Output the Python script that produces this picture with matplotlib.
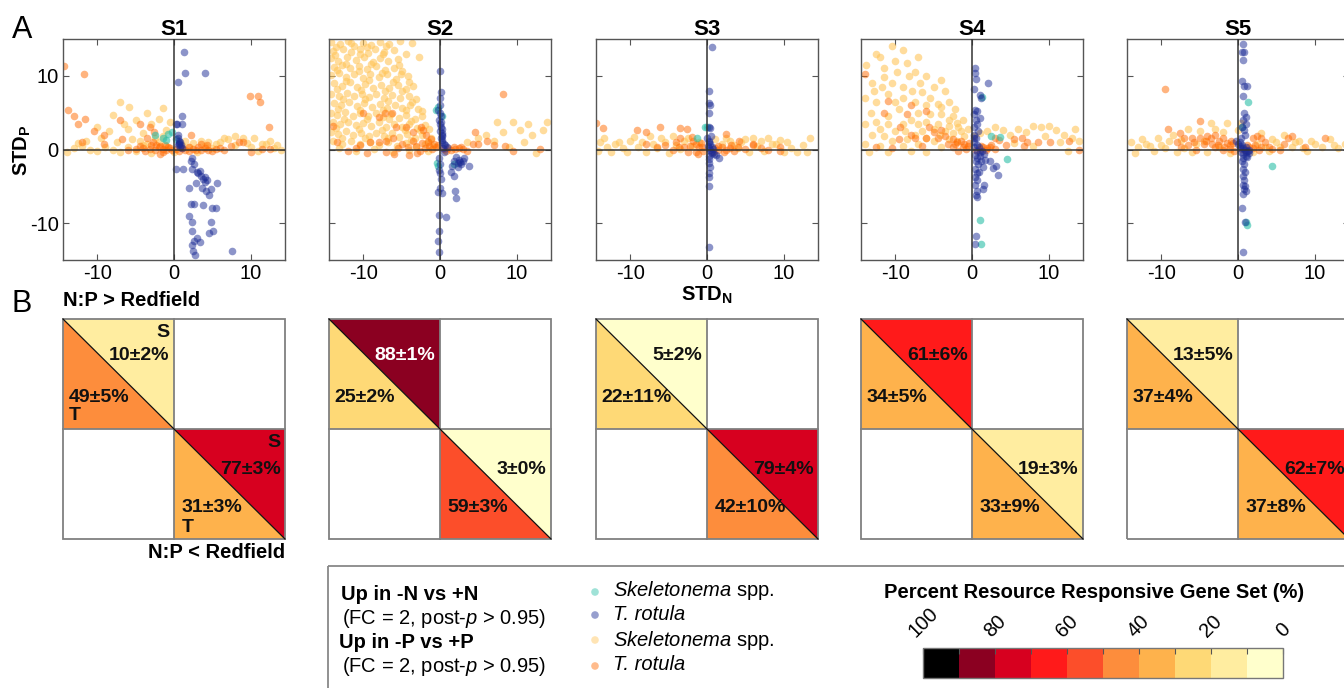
import matplotlib
matplotlib.use("Agg")
import matplotlib.pyplot as plt
import numpy as np
from matplotlib.colors import ListedColormap, BoundaryNorm
from matplotlib.patches import Polygon, Rectangle
import matplotlib.colorbar as mcolorbar

plt.rcParams['font.family'] = ['Liberation Sans', 'DejaVu Sans']
plt.rcParams['mathtext.fontset'] = 'custom'
plt.rcParams['mathtext.rm'] = 'Liberation Sans'
plt.rcParams['mathtext.it'] = 'Liberation Sans:italic'
plt.rcParams['mathtext.bf'] = 'Liberation Sans:bold'
plt.rcParams['axes.unicode_minus'] = False

stations = ['S1', 'S2', 'S3', 'S4', 'S5']

# ---- panel A: (STD_N, STD_P) points ----
s1_skel_p = [(-7.0, 6.4), (-5.9, 5.8), (-8.0, 4.7), (-5.0, 4.0), (-3.5, 5.0), (-2.0, 4.2), (-1.5, 5.6),
             (-10.0, 3.0), (-8.5, 2.5), (-6.0, 2.8), (-4.0, 2.2), (-2.5, 1.5), (-12.0, 0.5), (-14.0, -0.3),
             (-13.0, 0.2), (-11.0, 0.0), (-10.0, -0.2), (-9.0, 0.3), (-8.0, 0.0), (-7.0, -0.3), (-6.0, 0.4),
             (-5.0, -0.2), (-4.0, 0.6), (-3.0, -0.5), (-2.0, 1.0), (-1.0, 0.5), (0.0, -0.3), (1.0, 0.6),
             (2.0, 0.3), (3.0, -0.4), (4.0, 0.5), (5.0, 0.2), (6.0, 1.0), (7.0, 1.4), (8.0, 0.6), (9.0, 1.5),
             (10.0, 0.4), (11.0, -0.2), (12.0, 0.8), (13.0, 0.2), (14.0, -0.1), (6.5, 1.6), (8.0, 1.8),
             (10.5, 1.6), (12.5, 1.2), (-3.0, 3.5), (-6.5, 3.4), (-9.5, 1.5), (-1.0, 2.6), (-0.5, 3.8),
             (-12.5, 0.9), (-11.5, 1.2), (-7.5, 1.0), (-5.5, 1.4), (-4.5, 1.2), (-3.5, 0.8), (-1.5, 1.8),
             (1.5, 1.2), (2.5, 0.9), (3.5, 1.2), (4.5, 1.0), (5.5, 0.8), (9.5, 0.9), (11.5, 0.7), (13.5, 0.6)]
s1_trot_p = [(-14.4, 11.4), (-11.8, 10.2), (-13.8, 5.3), (-13.0, 4.5), (-12.6, 3.5), (-11.6, 4.1), (-12.0, 1.0),
             (-10.4, 2.5), (-9.2, 2.0), (-9.1, 0.8), (-7.0, 4.0), (-6.8, 1.4), (-4.5, 3.4), (-3.2, 3.0),
             (-2.6, 2.4), (-3.5, 1.6), (-2.3, 0.6), (-1.8, -0.6), (-4.0, 0.2), (-3.2, 0.1), (-2.0, 0.3),
             (-1.5, 0.1), (-1.0, 0.0), (-0.5, 0.2), (0.3, 0.1), (1.5, 0.0), (2.5, 0.1), (3.5, 0.0), (4.5, -0.1),
             (5.5, 0.1), (2.2, 2.0), (3.5, 0.8), (4.3, 0.6), (6.0, 0.2), (6.5, -0.1), (7.5, 0.5), (8.5, 1.0),
             (9.9, 7.2), (11.0, 7.2), (11.2, 6.4), (12.4, 3.0), (9.0, 1.0), (11.5, 0.1), (12.5, 0.1),
             (10.0, -0.3), (-5.0, 0.1), (-6.0, -0.1), (-2.8, 1.0), (-1.2, 0.6), (0.8, 0.3), (2.0, -0.2),
             (-4.4, 0.5), (-3.8, -0.2), (-2.5, -0.1), (-1.8, 0.5), (-0.8, 0.4), (-0.3, -0.1), (0.6, -0.2),
             (1.1, 0.2), (1.9, 0.3), (2.9, -0.1), (3.2, 0.3), (4.0, 0.2), (5.0, -0.2), (-3.0, 0.6), (-1.4, -0.3)]
s1_skel_n = [(-2.5, 2.0), (-1.5, 1.6), (-0.8, 2.1), (-0.3, 2.4), (-1.0, 1.3), (0.2, 1.4)]
s1_trot_n = [(1.3, 13.3), (1.4, 10.4), (4.0, 10.4), (0.5, 9.2), (1.0, 4.6), (0.3, 3.4), (1.1, 3.4), (0.5, 2.0),
             (0.8, 0.4), (0.7, 0.8), (0.6, 1.2), (0.9, 0.6), (1.0, 0.2), (0.5, 1.5), (0.4, 3.4),
             (2.2, -1.6), (2.6, -2.0), (0.3, -2.6), (1.2, -2.6), (2.3, -2.6), (3.2, -3.2), (3.5, -3.6),
             (3.8, -4.0), (4.0, -4.4), (3.6, -5.2), (4.2, -5.6), (4.6, -6.2), (2.0, -5.2), (5.6, -4.6),
             (4.8, -5.4), (2.2, -7.4), (2.6, -7.4), (3.8, -7.6), (5.0, -8.0), (5.5, -7.9), (1.9, -9.0),
             (2.4, -9.8), (4.8, -9.8), (2.3, -11.0), (5.1, -11.0), (4.6, -11.4), (3.0, -12.0), (2.6, -12.4),
             (2.4, -13.0), (3.4, -12.6), (2.5, -13.8), (7.6, -13.8), (2.8, -14.3), (3.0, -3.0), (4.1, -3.8),
             (4.3, -4.2), (3.4, -2.9), (2.4, -1.1), (2.9, -4.6), (0.6, 0.9), (0.8, 1.0), (0.5, 0.6)]

s2_skel_p = [(-14.2, 14.6), (-13.1, 14.3), (-12.0, 14.7), (-11.2, 14.1), (-10.1, 14.5), (-9.0, 14.2), (-7.9, 14.6),
             (-6.6, 14.3), (-5.2, 14.7), (-3.6, 14.4),
             (-14.0, 13.4), (-12.7, 13.7), (-11.6, 13.2), (-10.5, 13.6), (-9.4, 13.1), (-8.5, 13.7), (-7.3, 13.3),
             (-6.0, 13.5), (-4.4, 13.0),
             (-14.3, 12.4), (-13.3, 12.0), (-12.2, 12.6), (-11.0, 12.2), (-9.9, 12.5), (-8.8, 11.9), (-7.8, 12.4),
             (-6.8, 12.0), (-5.5, 12.3), (-2.7, 12.6),
             (-13.8, 11.2), (-12.8, 11.5), (-11.7, 11.0), (-10.6, 11.4), (-9.6, 10.9), (-8.4, 11.3), (-7.2, 10.8),
             (-6.0, 11.1), (-4.9, 10.7),
             (-14.2, 10.1), (-13.2, 10.4), (-12.3, 9.8), (-11.2, 10.2), (-10.1, 9.7), (-9.1, 10.3), (-8.0, 9.8),
             (-6.9, 10.2), (-5.8, 9.6), (-4.2, 10.0),
             (-13.9, 9.0), (-12.8, 8.6), (-11.8, 9.1), (-10.8, 8.5), (-9.8, 8.9), (-8.8, 8.4), (-7.7, 8.8),
             (-6.6, 8.3), (-5.5, 8.7), (-4.5, 8.2), (-3.5, 8.6),
             (-14.2, 7.6), (-13.2, 7.2), (-12.2, 7.7), (-11.2, 7.3), (-10.2, 7.6), (-9.3, 7.1), (-8.3, 7.5),
             (-7.3, 7.0), (-6.3, 7.4), (-5.2, 7.0), (-4.1, 7.3), (-3.1, 6.9),
             (-13.9, 6.3), (-12.9, 6.0), (-11.9, 6.4), (-10.9, 5.9), (-9.9, 6.3), (-8.9, 5.8), (-7.9, 6.2),
             (-6.9, 5.7), (-5.9, 6.1), (-4.9, 5.6), (-3.9, 6.0), (-2.9, 5.5),
             (-14.3, 5.0), (-13.4, 4.7), (-12.4, 5.1), (-11.4, 4.6), (-10.4, 5.0), (-9.4, 4.5), (-8.4, 4.9),
             (-7.4, 4.4), (-6.4, 4.8), (-5.4, 4.3), (-4.4, 4.7), (-3.3, 4.2), (-2.4, 4.6),
             (-14.0, 3.7), (-13.0, 3.4), (-12.0, 3.8), (-11.0, 3.3), (-10.0, 3.6), (-9.0, 3.2), (-8.0, 3.7),
             (-7.0, 3.1), (-6.0, 3.5), (-5.0, 3.0), (-4.0, 3.4), (-3.0, 2.9), (-2.0, 3.3), (-1.4, 2.8),
             (-14.3, 2.4), (-13.3, 2.1), (-12.3, 2.5), (-11.3, 2.0), (-10.3, 2.3), (-9.3, 1.9), (-8.3, 2.3),
             (-7.3, 1.8), (-6.3, 2.2), (-5.3, 1.7), (-4.3, 2.1), (-3.3, 1.6), (-2.3, 2.0), (-1.2, 1.6),
             (-14.0, 1.1), (-12.8, 0.8), (-11.6, 1.2), (-10.4, 0.7), (-9.2, 1.0), (-8.0, 0.6), (-6.8, 1.0),
             (-5.6, 0.5), (-4.4, 0.9), (-3.2, 0.4), (-2.0, 0.8), (-0.9, 0.5),
             (-13.2, 0.2), (-11.0, -0.2), (-8.6, 0.1), (-6.2, -0.3), (-4.0, 0.0), (-1.6, -0.2),
             (-13.6, 13.9), (-11.6, 14.4), (-9.6, 13.9), (-7.0, 14.0), (-13.7, 12.8), (-10.5, 12.9), (-7.4, 12.9),
             (-12.3, 11.6), (-9.0, 11.6), (-5.4, 11.5), (-13.5, 10.8), (-10.6, 10.6), (-7.6, 10.4), (-5.1, 10.3),
             (-12.3, 9.3), (-9.3, 9.4), (-6.2, 9.1), (-4.0, 9.2), (-13.4, 8.2), (-10.3, 8.1), (-7.2, 8.0),
             (-5.0, 7.9), (-12.7, 6.8), (-9.8, 6.8), (-6.8, 6.6), (-3.6, 6.5), (-13.3, 5.5), (-10.4, 5.4),
             (-7.4, 5.3), (-4.4, 5.3), (-2.4, 5.2), (-12.6, 4.2), (-9.6, 4.1), (-6.6, 4.1), (-3.8, 3.9),
             (-13.6, 2.9), (-10.6, 2.8), (-7.6, 2.7), (-4.6, 2.6), (-2.6, 2.6), (-12.8, 1.6), (-9.8, 1.5),
             (-6.8, 1.5), (-3.8, 1.3), (-1.6, 1.1),
             (7.5, 3.8), (9.5, 3.8), (11.5, 3.5), (14.0, 3.8), (13.5, 2.6), (10.5, 2.6), (12.0, 2.0), (11.0, 1.0),
             (6.0, 2.0), (7.0, 1.2), (5.0, 1.5), (9.0, 0.3), (12.5, -0.5), (3.5, 1.0), (8.2, 2.4)]
s2_trot_p = [(8.2, 7.6), (-10.0, 5.0), (-8.0, 4.4), (-7.2, 5.0), (-6.3, 5.0), (-4.5, 3.0), (-5.8, 3.0), (-2.5, 3.0),
             (-2.2, 2.6), (-1.8, 2.0), (-3.5, 2.4), (-6.2, 1.6), (-7.0, 1.2), (-8.0, 1.0), (-9.2, 1.0),
             (-10.4, 0.6), (-13.5, 1.0), (-14.0, 3.2), (-11.0, 0.2), (-9.5, -0.5), (-7.0, -0.4), (-6.0, -0.6),
             (-4.0, -0.8), (-3.0, -0.5), (-2.0, 0.2), (-1.5, 0.5), (-1.0, 0.1), (-0.5, 0.3), (-0.2, 0.6),
             (0.5, 0.1), (1.0, 0.2), (1.5, 0.0), (2.0, 0.1), (2.5, 0.2), (3.0, 0.1), (3.5, -0.2), (4.3, 0.8),
             (5.0, 0.7), (4.6, 2.4), (6.2, 1.2), (7.0, 0.6), (8.5, 0.5), (9.5, -0.2), (13.0, 0.1), (-12.0, -0.2),
             (-5.0, 0.8), (-3.5, 1.2), (-1.2, 1.4), (-2.6, -0.2), (-1.6, 1.0), (-0.8, 0.8), (-2.4, 0.9),
             (-3.1, 0.5), (1.8, 0.4), (2.8, 0.3), (0.8, -0.2), (-4.2, 0.4), (-5.5, 0.2)]
s2_skel_n = [(-0.5, 5.4), (-0.3, 5.8), (-0.4, -1.8), (-0.3, -2.2), (1.8, -2.0), (0.2, 4.6)]
s2_trot_n = [(0.0, 10.6), (0.1, 7.8), (0.0, 7.0), (0.0, 6.0), (-0.2, 5.4), (0.0, 5.0), (0.1, 4.5), (-0.1, 4.0),
             (0.0, 3.5), (0.1, 3.0), (0.0, 2.5), (0.2, 2.0), (0.1, 1.5), (0.3, 1.0), (0.6, 0.6), (0.9, 0.3),
             (0.5, -0.3), (-0.1, -1.2), (0.0, -2.0), (-0.1, -2.8), (0.0, -3.2), (0.1, -4.0), (0.0, -5.2),
             (-0.3, -5.8), (0.2, -5.9), (-0.1, -8.9), (-0.1, -11.0), (-0.2, -12.4), (-0.1, -13.9), (0.8, -9.2),
             (2.1, -1.0), (2.5, -1.4), (3.0, -1.6), (2.8, -2.0), (2.3, -1.8), (3.2, -1.2), (1.8, -1.5),
             (1.6, -2.2), (2.4, -2.4), (3.8, -2.2), (1.8, -3.6), (2.0, -5.6), (2.1, -6.6), (1.5, -3.0),
             (0.4, 0.2), (0.5, 0.8), (0.3, 1.8), (0.2, 2.8), (0.1, 3.8), (0.2, 2.3), (0.3, 1.3), (2.6, -1.7)]

s3_skel_p = [(-14.0, 1.0), (-13.0, 0.4), (-12.0, 0.8), (-11.0, 0.2), (-10.0, 1.2), (-9.0, 0.4), (-8.0, -0.3),
             (-7.0, 0.8), (-6.0, 1.5), (-5.0, -0.5), (-4.0, 0.6), (-3.0, 1.2), (-2.0, 0.5), (-1.0, 1.0),
             (2.0, 0.8), (3.0, 1.2), (4.0, 0.2), (5.0, 1.4), (6.0, 1.6), (7.0, 1.2), (8.0, 1.5), (9.0, 0.8),
             (10.0, -0.4), (11.0, 0.2), (12.5, 0.6), (13.5, 1.5), (13.0, -0.3), (-12.5, -0.3), (-10.5, -0.4),
             (-7.5, 1.8), (-14.2, -0.2), (5.5, -0.3), (7.5, -0.2), (11.8, -0.3), (-4.5, 1.9), (1.0, 1.4),
             (-13.5, 1.6), (-11.5, 1.0), (-9.5, 1.7), (-8.5, 1.0), (-6.5, 0.2), (-5.5, 1.0), (-3.5, 0.1),
             (-2.5, 1.6), (2.5, 1.6), (3.5, 0.6), (4.5, 1.0), (6.5, 0.5), (8.5, 0.7), (9.5, 1.3), (10.5, 1.0)]
s3_trot_p = [(-14.5, 3.6), (-13.6, 2.9), (-9.2, 2.7), (-8.0, 2.4), (-6.1, 3.0), (-3.5, 2.9), (-2.6, 2.8),
             (-3.5, 1.6), (-2.0, 1.7), (-1.8, 1.2), (-4.0, 1.0), (-5.5, 0.6), (-6.5, 0.4), (-8.0, 0.7),
             (-3.0, 0.3), (-2.5, -0.3), (-1.0, 0.3), (-0.5, -0.2), (1.0, 0.2), (1.5, -0.1), (2.0, 0.3),
             (2.5, 0.0), (3.0, 0.2), (3.5, -0.2), (4.0, 0.4), (5.0, 0.1), (6.0, 0.6), (7.0, 0.2), (8.0, 0.0),
             (9.6, 0.4), (9.6, -0.2), (4.2, 1.2), (2.5, 2.1), (6.0, 0.8), (-1.5, -0.4), (-4.5, -0.1),
             (-2.2, 0.5), (-1.4, 0.7), (-0.8, 0.9), (-3.6, 0.4), (1.4, 0.5), (2.2, -0.3), (3.2, 0.6),
             (-1.2, -0.6), (-0.6, 0.4), (0.8, -0.3)]
s3_skel_n = [(-0.2, 3.0), (0.0, 3.0), (-1.3, 1.6)]
s3_trot_n = [(0.6, 13.9), (0.3, 8.0), (0.3, 6.3), (0.4, 6.0), (0.2, 4.9), (0.3, 3.0), (0.4, 2.9), (0.0, 1.5),
             (0.2, 1.2), (0.4, 0.8), (0.6, 0.4), (0.8, 0.1), (0.5, -0.3), (0.9, -0.6), (1.6, -1.2), (1.2, -0.8),
             (0.3, -1.8), (0.4, -2.4), (0.3, -3.2), (0.2, -3.7), (0.3, -5.0), (0.3, -13.3), (0.1, 0.5),
             (0.3, -0.9), (0.5, 1.8), (0.2, 0.2), (0.4, -0.1), (0.6, -0.5), (0.2, 1.0), (0.3, -1.3)]

s4_skel_p = [(-10.5, 14.0), (-12.5, 13.0), (-9.0, 13.5), (-13.8, 11.5), (-11.5, 11.0), (-10.0, 12.0), (-8.5, 11.8),
             (-7.5, 10.5), (-6.0, 10.0), (-13.0, 9.0), (-11.8, 8.5), (-10.5, 9.0), (-9.0, 8.5), (-7.8, 8.0),
             (-6.5, 7.8), (-5.5, 7.0), (-4.5, 6.2), (-3.0, 6.5), (-14.0, 7.0), (-12.5, 6.5), (-13.2, 5.0),
             (-10.0, 6.5), (-9.5, 5.5), (-7.0, 5.0), (-5.5, 4.8), (-4.0, 4.8), (-2.5, 4.5), (-14.0, 3.5),
             (-12.5, 3.8), (-11.0, 3.5), (-10.0, 2.5), (-7.0, 3.5), (-6.0, 3.8), (-4.5, 3.5), (-3.0, 3.2),
             (-2.0, 3.6), (-1.5, 2.5), (-13.0, 2.0), (-11.5, 1.8), (-8.8, 2.5), (-6.5, 2.5), (-5.0, 1.2),
             (-3.5, 2.5), (-2.5, 2.2), (-1.0, 1.8), (-14.0, 0.8), (-12.0, 0.5), (-9.0, 0.5), (-7.0, 0.8),
             (-4.0, 0.4), (-13.5, -0.3), (-11.0, -0.4), (-8.0, -0.2), (-6.0, -0.3), (1.0, 2.2), (2.0, 2.5),
             (3.0, 3.0), (4.0, 2.6), (5.0, 2.0), (6.0, 2.8), (7.0, 2.4), (8.0, 3.2), (9.0, 3.0), (10.0, 3.2),
             (11.0, 2.6), (12.0, 2.0), (13.0, 1.6), (14.0, 1.2), (5.5, 0.9), (8.0, 0.5), (9.5, 1.8), (11.5, 1.0),
             (12.5, -0.2), (13.5, 2.8), (-0.5, 2.8), (0.2, 1.8), (-8.2, 10.0), (-12.0, 12.5), (-7.0, 12.5),
             (-5.0, 8.5), (-3.5, 8.0), (-4.0, 9.5), (-8.0, 4.0), (-9.0, 3.4), (-11.0, 4.6), (-6.0, 6.0),
             (-3.0, 4.0), (-5.0, 2.8), (-2.0, 1.2), (-8.5, 1.4), (-12.0, 2.8), (-10.5, 1.2), (-7.5, 2.0),
             (-6.0, 1.5), (-4.2, 2.0), (-3.0, 1.4), (-1.8, 3.0), (-1.2, 4.0), (-2.2, 5.5), (-4.0, 5.8),
             (-7.5, 6.5), (-9.0, 7.0), (-11.0, 7.5), (-12.8, 8.0), (-6.8, 9.0), (-9.8, 10.5), (-11.5, 9.8)]
s4_trot_p = [(-14.0, 10.2), (-11.0, 6.6), (-8.0, 6.0), (-6.0, 5.2), (-11.5, 5.0), (-8.5, 4.8), (-9.4, 3.0),
             (-8.0, 2.0), (-5.6, 3.0), (-5.0, 2.4), (-4.0, 2.6), (-3.5, 1.8), (-4.5, 1.6), (-6.0, 1.6),
             (-7.5, 1.6), (-9.5, 1.4), (-2.5, 1.4), (-2.0, 1.0), (-1.5, 1.2), (-1.0, 0.8), (-0.5, 0.5),
             (-0.8, 0.1), (-2.5, 0.3), (-3.2, 0.8), (-1.8, -0.2), (0.5, 0.0), (1.0, 0.1), (1.5, 0.4), (2.0, 0.2),
             (2.5, 0.6), (3.0, 0.1), (3.5, 1.3), (3.0, 1.6), (4.5, 0.6), (5.5, 1.4), (6.5, 1.6), (7.2, 1.0),
             (8.6, 1.0), (10.2, 1.0), (12.7, 1.2), (14.0, 0.0), (6.8, 0.5), (-10.5, 0.2), (-12.5, 0.4),
             (-6.5, 0.5), (-1.2, 0.4), (-0.4, 0.9), (-2.2, 0.7), (1.2, 0.5), (1.8, -0.1), (2.4, 0.3)]
s4_skel_n = [(1.3, 7.1), (3.6, 1.7), (4.6, -1.3), (1.0, -9.6), (1.2, -12.8), (2.5, 1.8)]
s4_trot_n = [(0.4, 11.0), (0.4, 10.4), (0.5, 9.6), (2.1, 9.0), (0.3, 8.2), (1.0, 7.4), (1.2, 7.0), (0.4, 5.3),
             (0.6, 5.2), (0.3, 4.8), (1.0, 4.3), (0.5, 4.0), (0.6, 3.5), (0.2, 3.0), (0.8, 2.5), (0.3, 2.0),
             (0.5, 1.5), (0.3, 1.0), (0.6, 0.6), (0.9, 0.3), (1.3, -0.2), (1.6, -0.6), (1.0, -0.9), (1.7, -1.4),
             (0.5, -1.5), (0.8, -2.0), (0.4, -2.6), (0.6, -3.2), (0.4, -3.8), (0.6, -4.2), (0.4, -4.8),
             (1.6, -4.8), (1.5, -5.3), (0.6, -5.6), (0.5, -6.2), (0.6, -6.4), (3.1, -2.2), (3.4, -3.5),
             (2.8, -2.5), (2.3, -1.6), (0.5, -11.8), (0.4, -12.8), (1.5, -2.4), (0.9, -3.0),
             (0.3, 0.4), (0.6, -0.2), (1.0, -0.4), (0.4, -0.7), (0.7, -1.1), (1.2, -1.6), (0.3, 1.6)]

s5_skel_p = [(-14.0, 1.0), (-13.0, 0.3), (-12.0, 0.8), (-11.0, -0.2), (-10.0, 0.6), (-9.0, 1.2), (-8.0, -0.3),
             (-7.0, 0.2), (-6.0, -0.4), (-5.0, 2.5), (-4.0, -0.3), (-3.0, 2.8), (-2.0, 2.4), (-1.0, -0.5),
             (0.0, 2.6), (2.0, -0.3), (3.0, 2.3), (4.0, -0.2), (5.0, 1.0), (6.0, 2.0), (7.0, 0.3), (8.0, 1.2),
             (9.0, -0.2), (10.0, 0.8), (11.0, 0.3), (12.0, 1.4), (13.0, 0.2), (14.0, 0.8), (-13.5, -0.5),
             (-10.5, 1.5), (-6.5, 2.8), (-3.5, 3.6), (-8.5, 2.0), (-1.5, 3.6), (0.4, 3.6),
             (-12.5, 1.4), (-11.5, 0.5), (-9.5, 0.2), (-7.5, 1.3), (-5.5, 0.8), (-4.5, 1.2), (-2.5, 0.4),
             (2.5, 0.8), (3.5, 0.4), (4.5, 1.4), (5.5, 0.3), (7.5, 1.0), (8.5, 0.2), (9.5, 1.2), (12.5, 0.6)]
s5_trot_p = [(-9.5, 8.2), (-5.0, 3.9), (-9.2, 2.8), (-7.6, 2.3), (-7.0, 1.6), (-6.0, 1.6), (-5.0, 1.5),
             (-4.0, 1.8), (-3.5, 1.6), (-3.0, 2.0), (-2.5, 1.2), (-2.0, 1.6), (-1.5, 0.9), (-1.0, 0.6),
             (-0.6, 0.9), (-4.5, 0.8), (-6.5, 0.6), (-8.0, 1.0), (-3.0, 0.3), (-2.0, 0.0), (-1.0, 0.1),
             (-0.5, -0.2), (0.5, 0.1), (1.5, 0.3), (2.0, 1.6), (2.5, 1.8), (3.0, 1.5), (3.5, 1.0), (3.0, 0.4),
             (4.0, 0.3), (4.5, 0.1), (5.5, 0.0), (6.5, 1.5), (7.0, 1.8), (6.0, 0.8), (8.8, 0.4), (11.4, 1.6),
             (2.2, 0.6), (-5.5, -0.1), (-7.5, 0.3), (-4.2, 1.2), (-3.4, 0.8), (-2.6, 0.6), (-1.8, 0.4),
             (-0.9, 1.2), (-5.8, 1.0), (1.2, 0.6), (2.0, 0.2), (2.8, -0.1), (1.0, -0.2)]
s5_skel_n = [(1.3, 6.4), (4.5, -2.2), (1.1, -9.8), (1.2, -10.2), (0.5, 3.0)]
s5_trot_n = [(0.6, 14.3), (0.5, 13.2), (0.8, 13.2), (0.6, 12.2), (0.5, 9.3), (0.8, 8.6), (1.2, 8.6), (0.6, 7.2),
             (0.8, 5.0), (1.0, 4.4), (0.6, 4.0), (1.1, 3.5), (0.5, 3.0), (0.8, 2.6), (0.9, 2.0), (0.4, 1.5),
             (-0.2, 1.2), (0.0, 0.8), (0.3, 0.5), (0.6, 0.2), (0.9, 0.0), (1.0, -0.4), (0.7, -0.6), (1.1, -0.9),
             (0.5, -1.5), (0.8, -2.0), (0.6, -2.6), (0.9, -3.0), (0.7, -3.6), (0.8, -4.2), (0.6, -4.8),
             (0.8, -5.4), (0.6, -6.0), (0.5, -8.0), (0.9, -9.8), (0.6, -13.9), (1.3, -0.2), (1.5, 0.0),
             (1.2, -1.0), (0.4, -0.3), (0.9, -5.0), (1.0, -5.6), (0.2, 0.2), (0.5, 0.6), (1.1, 0.3),
             (1.4, -0.5), (0.7, -1.2), (0.3, 1.0)]

# ---- panel B: percent of resource responsive gene set ----
np_high_skel = [10, 88, 5, 61, 13]
np_high_skel_err = [2, 1, 2, 6, 5]
np_high_trot = [49, 25, 22, 34, 37]
np_high_trot_err = [5, 2, 11, 5, 4]
np_low_skel = [77, 3, 79, 19, 62]
np_low_skel_err = [3, 0, 4, 3, 7]
np_low_trot = [31, 59, 42, 33, 37]
np_low_trot_err = [3, 3, 10, 9, 8]

bin_edges = [0, 10, 20, 30, 40, 50, 60, 70, 80, 90, 100]
bin_colors = ['#FFFFCC', '#FFEDA0', '#FED976', '#FEB24C', '#FD8D3C',
              '#FC4E2A', '#FF1A1A', '#D7001F', '#8B0021', '#000000']
cmap = ListedColormap(bin_colors)
norm = BoundaryNorm(bin_edges, cmap.N)

c_skel_n = '#2BBFA8'
c_trot_n = '#1A2A94'
c_skel_p = '#FFC55A'
c_trot_p = '#FF6A00'

W, H = 1344, 688
fig = plt.figure(figsize=(W / 100, H / 100), dpi=100)


def px_axes(left, top, w, h):
    return fig.add_axes([left / W, 1 - (top + h) / H, w / W, h / H])


lefts = [63, 329, 596, 861, 1127]
scatter_sets = [
    (s1_skel_p, s1_trot_p, s1_skel_n, s1_trot_n),
    (s2_skel_p, s2_trot_p, s2_skel_n, s2_trot_n),
    (s3_skel_p, s3_trot_p, s3_skel_n, s3_trot_n),
    (s4_skel_p, s4_trot_p, s4_skel_n, s4_trot_n),
    (s5_skel_p, s5_trot_p, s5_skel_n, s5_trot_n),
]

for i, name in enumerate(stations):
    ax = px_axes(lefts[i], 39, 222, 221)
    skel_p, trot_p, skel_n, trot_n = scatter_sets[i]
    for pts, col, al in [(skel_p, c_skel_p, 0.6), (trot_p, c_trot_p, 0.5),
                         (skel_n, c_skel_n, 0.6), (trot_n, c_trot_n, 0.5)]:
        xy = np.array(pts)
        ax.scatter(xy[:, 0], xy[:, 1], s=30, c=col, alpha=al, linewidths=0, zorder=2)
    ax.axhline(0, color='#333333', lw=1.1, zorder=3)
    ax.axvline(0, color='#333333', lw=1.1, zorder=3)
    ax.set_xlim(-14.5, 14.5)
    ax.set_ylim(-15, 15)
    ax.set_xticks([-10, 0, 10])
    ax.set_yticks([-10, 0, 10])
    ax.tick_params(direction='in', top=True, right=True, length=4, width=0.8,
                   color='#555555', labelsize=14.5, pad=3)
    if i > 0:
        ax.set_yticklabels([])
    for sp in ax.spines.values():
        sp.set_color('#555555')
        sp.set_linewidth(1.0)
    ax.set_title(name, fontsize=16, fontweight='bold', pad=3)

    # panel B
    bx = px_axes(lefts[i], 319, 222, 220)
    bx.set_xlim(0, 2)
    bx.set_ylim(0, 2)
    bx.axis('off')
    bx.add_patch(Polygon([(0, 2), (1, 2), (1, 1)], closed=True, lw=0,
                         fc=cmap(norm(np_high_skel[i]))))
    bx.add_patch(Polygon([(0, 2), (0, 1), (1, 1)], closed=True, lw=0,
                         fc=cmap(norm(np_high_trot[i]))))
    bx.add_patch(Polygon([(1, 1), (2, 1), (2, 0)], closed=True, lw=0,
                         fc=cmap(norm(np_low_skel[i]))))
    bx.add_patch(Polygon([(1, 1), (1, 0), (2, 0)], closed=True, lw=0,
                         fc=cmap(norm(np_low_trot[i]))))
    bx.add_patch(Rectangle((0, 0), 2, 2, fill=False, ec='#808080', lw=1.3, clip_on=False))
    bx.plot([1, 1], [0, 2], color='#808080', lw=1.3, clip_on=False)
    bx.plot([0, 2], [1, 1], color='#808080', lw=1.3, clip_on=False)
    bx.plot([0, 2], [2, 0], color='#111111', lw=0.9, clip_on=False)

    def lab(v, e):
        return f'{v}\u00b1{e}%'

    def tcol(v):
        return 'white' if v >= 80 else '#111111'

    kw = dict(fontsize=14, fontweight='bold', va='center')
    bx.text(0.96, 1.67, lab(np_high_skel[i], np_high_skel_err[i]), ha='right',
            color=tcol(np_high_skel[i]), **kw)
    bx.text(0.05, 1.29, lab(np_high_trot[i], np_high_trot_err[i]), ha='left',
            color=tcol(np_high_trot[i]), **kw)
    bx.text(1.96, 0.63, lab(np_low_skel[i], np_low_skel_err[i]), ha='right',
            color=tcol(np_low_skel[i]), **kw)
    bx.text(1.07, 0.29, lab(np_low_trot[i], np_low_trot_err[i]), ha='left',
            color=tcol(np_low_trot[i]), **kw)
    if i == 0:
        bx.text(0.96, 1.88, 'S', ha='right', color='#111111', **kw)
        bx.text(0.05, 1.12, 'T', ha='left', color='#111111', **kw)
        bx.text(1.96, 0.88, 'S', ha='right', color='#111111', **kw)
        bx.text(1.07, 0.10, 'T', ha='left', color='#111111', **kw)

# colorbar
cax = px_axes(923, 648, 360, 30)
cb = mcolorbar.Colorbar(cax, cmap=cmap, norm=norm, orientation='horizontal')
cb.outline.set_edgecolor('#777777')
cb.outline.set_linewidth(1.0)
cax.invert_xaxis()
cax.set_xticks([0, 20, 40, 60, 80, 100])
cax.set_xticks([10, 30, 50, 70, 90], minor=True)
cax.xaxis.set_ticks_position('top')
cax.tick_params(axis='x', which='both', direction='in', length=4, width=0.8,
                color='#555555', top=True, bottom=False, labeltop=True,
                labelbottom=False, labelsize=14.5, pad=5)
for t in cax.get_xticklabels():
    t.set_rotation(45)
    t.set_ha('center')

# overlay for figure text (pixel coordinates)
ov = fig.add_axes([0, 0, 1, 1])
ov.set_xlim(0, W)
ov.set_ylim(H, 0)
ov.axis('off')

ov.text(12, 38, 'A', fontsize=22, va='baseline')
ov.text(12, 312, 'B', fontsize=22, va='baseline')
ov.text(22, 150, r'STD$_\mathbf{P}$', fontsize=14.5, fontweight='bold', rotation=90,
        ha='center', va='center')
ov.text(707, 295, r'STD$_\mathbf{N}$', fontsize=14.5, fontweight='bold', ha='center', va='center')
ov.text(63, 300, 'N:P > Redfield', fontsize=14.5, fontweight='bold', ha='left', va='center')
ov.text(285, 553, 'N:P < Redfield', fontsize=14.5, fontweight='bold', ha='right', va='center')

# legend box
ov.add_patch(Rectangle((328, 566), 1100, 200, fill=False, ec='#888888', lw=1.3, clip_on=False))
ov.text(341, 594, 'Up in -N vs +N', fontsize=14.5, fontweight='bold', va='center')
ov.text(342, 618, r'(FC = 2, post-$\mathit{p}$ > 0.95)', fontsize=14.5, va='center')
ov.text(339, 642, 'Up in -P vs +P', fontsize=14.5, fontweight='bold', va='center')
ov.text(342, 666, r'(FC = 2, post-$\mathit{p}$ > 0.95)', fontsize=14.5, va='center')

leg_y = [592, 615, 640, 666]
leg_cols = [c_skel_n, c_trot_n, c_skel_p, c_trot_p]
ov.scatter([595] * 4, leg_y, s=30, c=leg_cols, alpha=0.45, linewidths=0)
ov.text(613, 590, r'$\mathit{Skeletonema}$ spp.', fontsize=14.5, va='center')
ov.text(613, 614, 'T. rotula', fontsize=14.5, fontstyle='italic', va='center')
ov.text(613, 640, r'$\mathit{Skeletonema}$ spp.', fontsize=14.5, va='center')
ov.text(613, 665, 'T. rotula', fontsize=14.5, fontstyle='italic', va='center')

ov.text(1094, 592, 'Percent Resource Responsive Gene Set (%)', fontsize=14.5,
        fontweight='bold', ha='center', va='center')

fig.savefig('out.png', dpi=100)
